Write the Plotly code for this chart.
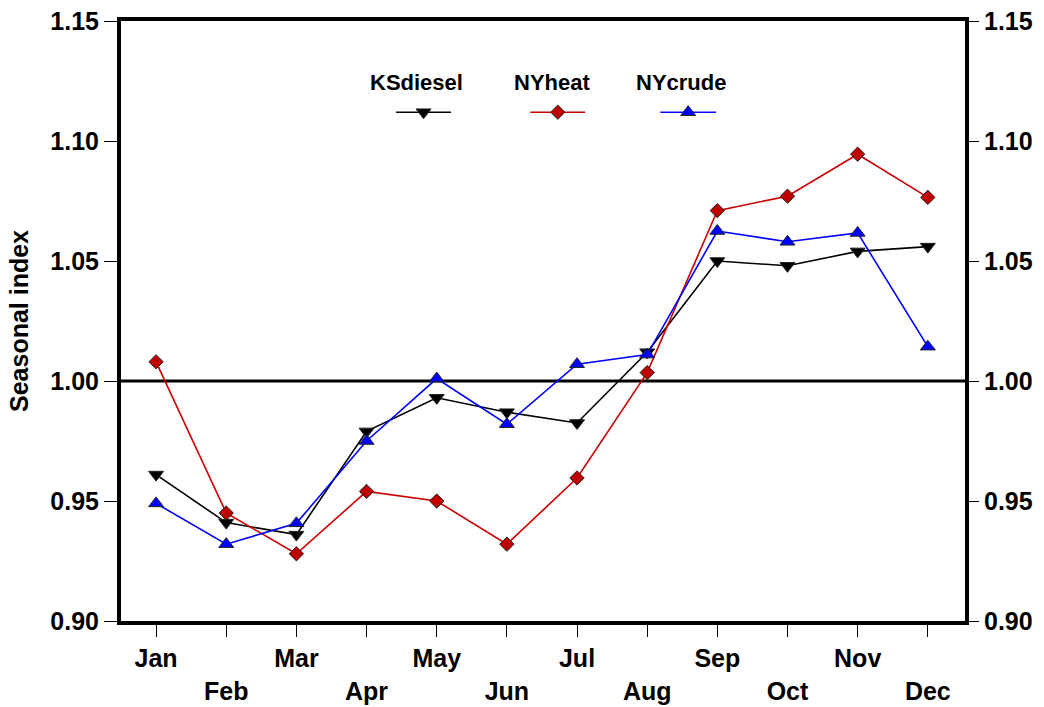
import plotly.graph_objects as go

months = ["Jan", "Feb", "Mar", "Apr", "May", "Jun", "Jul", "Aug", "Sep", "Oct", "Nov", "Dec"]
month_num = list(range(1, 13))

ks_diesel = [0.961, 0.941, 0.936, 0.979, 0.993, 0.987, 0.9825, 1.012, 1.050, 1.048, 1.054, 1.056]
ny_heat = [1.008, 0.945, 0.928, 0.954, 0.950, 0.932, 0.9596, 1.0035, 1.071, 1.077, 1.0945, 1.0765]
ny_crude = [0.949, 0.932, 0.9407, 0.975, 1.001, 0.982, 1.007, 1.011, 1.0625, 1.058, 1.0617, 1.0143]

series_names = ["KSdiesel", "NYheat", "NYcrude"]
series_values = [ks_diesel, ny_heat, ny_crude]
line_colors = ["#000000", "#cc0000", "#0000ff"]
marker_fills = ["#000000", "#c00000", "#0000ff"]
marker_symbols = ["triangle-down", "diamond", "triangle-up"]
marker_sizes = [13, 11, 13]

y_ticks = [0.90, 0.95, 1.00, 1.05, 1.10, 1.15]
y_ticktext = ["0.90", "0.95", "1.00", "1.05", "1.10", "1.15"]
x_ticktext = [m if i % 2 == 0 else "<br>" + m for i, m in enumerate(months)]

# legend sample placement (fractions of the plot area)
legend_line_x = [(0.326, 0.391), (0.485, 0.550), (0.639, 0.705)]
legend_text_x = [0.350, 0.511, 0.664]
legend_line_y = 0.848
legend_text_y = 0.898

FONT = "Liberation Sans, Arial, sans-serif"

fig = go.Figure()

for name, vals, lc, mf, ms, sz in zip(series_names, series_values, line_colors,
                                      marker_fills, marker_symbols, marker_sizes):
    fig.add_trace(go.Scatter(
        x=month_num, y=vals, mode="lines+markers", name=name,
        line=dict(color=lc, width=1.6),
        marker=dict(symbol=ms, size=sz, color=mf, line=dict(color="#222222", width=1)),
        showlegend=False,
    ))

# invisible trace to activate right axis
fig.add_trace(go.Scatter(x=[month_num[0]], y=[y_ticks[0]], yaxis="y2", mode="markers",
                         marker=dict(opacity=0), showlegend=False, hoverinfo="skip"))

# custom legend samples
for (x0, x1), lc, mf, ms, sz in zip(legend_line_x, line_colors, marker_fills, marker_symbols, marker_sizes):
    fig.add_trace(go.Scatter(
        x=[x0, x1], y=[legend_line_y] * 2, xaxis="x2", yaxis="y3",
        mode="lines", line=dict(color=lc, width=1.6),
        showlegend=False, hoverinfo="skip",
    ))
    fig.add_trace(go.Scatter(
        x=[(x0 + x1) / 2], y=[legend_line_y], xaxis="x2", yaxis="y3",
        mode="markers",
        marker=dict(symbol=ms, size=sz, color=mf, line=dict(color="#222222", width=1)),
        showlegend=False, hoverinfo="skip",
    ))

annotations = []
for name, tx in zip(series_names, legend_text_x):
    annotations.append(dict(x=tx, y=legend_text_y, xref="paper", yref="paper",
                            text=name, showarrow=False,
                            font=dict(family=FONT, size=22, color="black", weight="bold"),
                            xanchor="center", yanchor="middle"))

# y-axis title as a rotated annotation
annotations.append(dict(x=19, y=0.5, xref="paper", yref="paper", text="Seasonal index",
                        showarrow=False, textangle=-90,
                        font=dict(family=FONT, size=25, color="black", weight="bold"),
                        xanchor="center", yanchor="middle"))
annotations[-1]["xref"] = "paper"
annotations[-1]["x"] = -(121 - 19) / (1044 - 121 - 79)

fig.update_layout(
    width=1044, height=707,
    margin=dict(l=121, r=79, t=21, b=86, autoexpand=False),
    paper_bgcolor="white", plot_bgcolor="white",
    font=dict(family=FONT, size=25, color="black", weight="bold"),
    xaxis=dict(
        range=[0.5, 12.53], tickmode="array", tickvals=month_num, ticktext=x_ticktext,
        showgrid=False, zeroline=False, showline=True, linewidth=4, linecolor="black",
        mirror=True, ticks="outside", ticklen=12, tickwidth=1, tickcolor="black",
        tickfont=dict(family=FONT, size=25, weight="bold"), automargin=False,
    ),
    xaxis2=dict(range=[0, 1], overlaying="x", visible=False, automargin=False),
    yaxis=dict(
        range=[0.90, 1.15], tickmode="array", tickvals=y_ticks, ticktext=y_ticktext,
        showgrid=False, zeroline=False, showline=True, linewidth=4, linecolor="black",
        mirror=True, ticks="outside", ticklen=13, tickwidth=1, tickcolor="black",
        tickfont=dict(family=FONT, size=25, weight="bold"), automargin=False,
    ),
    yaxis2=dict(
        range=[0.90, 1.15], tickmode="array", tickvals=y_ticks, ticktext=y_ticktext,
        overlaying="y", side="right", showgrid=False, zeroline=False,
        showline=False, ticks="outside", ticklen=13, tickwidth=1, tickcolor="black",
        tickfont=dict(family=FONT, size=25, weight="bold"), automargin=False,
    ),
    yaxis3=dict(range=[0, 1], overlaying="y", visible=False, automargin=False),
    shapes=[dict(type="line", xref="paper", yref="y", x0=0, x1=1, y0=1.0, y1=1.0,
                 line=dict(color="black", width=3), layer="below")],
    annotations=annotations,
    showlegend=False,
)

fig.write_html("out.html")
